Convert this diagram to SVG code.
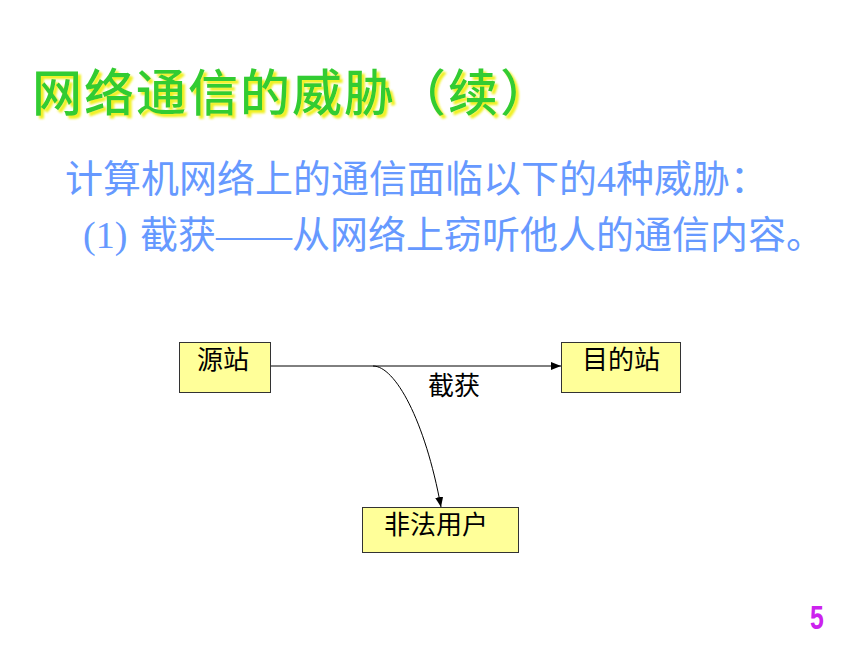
<svg xmlns="http://www.w3.org/2000/svg" width="860" height="645" viewBox="0 0 860 645">
<defs>
<style>
.title{font-family:"Noto Sans CJK SC",sans-serif;font-weight:500;font-size:50px;letter-spacing:2px;fill:#33cc33}
.body{font-family:"Liberation Serif","Noto Sans CJK SC",serif;font-size:38px;fill:#6699ff}
.node rect{fill:#ffff99;stroke:#333333;stroke-width:1}
.lbl{font-family:"Noto Sans CJK SC",sans-serif;font-size:26px;fill:#000000}
.conn{fill:none;stroke:#000000;stroke-width:1}
</style>
<filter id="shadow" x="-5%" y="-10%" width="110%" height="130%">
<feOffset in="SourceAlpha" dx="3" dy="3" result="off"/>
<feGaussianBlur in="off" stdDeviation="0.8" result="blur"/>
<feFlood flood-color="#f0f020"/>
<feComposite in2="blur" operator="in" result="sh"/>
<feMerge><feMergeNode in="sh"/><feMergeNode in="SourceGraphic"/></feMerge>
</filter>
<marker id="arr" markerWidth="10" markerHeight="8" refX="10" refY="4" orient="auto" markerUnits="userSpaceOnUse">
<path d="M0,0 L10,4 L0,8 Z" fill="#000000"/>
</marker>
</defs>
<rect width="860" height="645" fill="#ffffff"/>
<g id="title">
<text class="title" x="32" y="111" filter="url(#shadow)">网络通信的威胁（续）</text>
</g>
<g id="body-text">
<text class="body" x="65" y="192">计算机网络上的通信面临以下的4种威胁：</text>
<text class="body" x="83" y="248">(1)</text>
<text class="body" x="140" y="248">截获——从网络上窃听他人的通信内容。</text>
</g>
<g id="connectors">
<line class="conn" x1="270" y1="366" x2="561" y2="366" marker-end="url(#arr)"/>
<path class="conn" d="M373,366 C395,366 425,420 441,507" marker-end="url(#arr)"/>
<text class="lbl" x="428" y="395">截获</text>
</g>
<g id="node-source" class="node">
<rect x="179.5" y="342.5" width="91" height="50"/>
<text class="lbl" x="197" y="369">源站</text>
</g>
<g id="node-dest" class="node">
<rect x="561.5" y="342.5" width="119" height="50"/>
<text class="lbl" x="582" y="369">目的站</text>
</g>
<g id="node-attacker" class="node">
<rect x="362.5" y="507.5" width="156" height="45"/>
<text class="lbl" x="384" y="534">非法用户</text>
</g>
<text id="page-number" transform="translate(817,629) scale(0.75,1)" text-anchor="middle" font-family="Liberation Sans, sans-serif" font-weight="bold" font-size="33" fill="#cc22ee">5</text>
</svg>
